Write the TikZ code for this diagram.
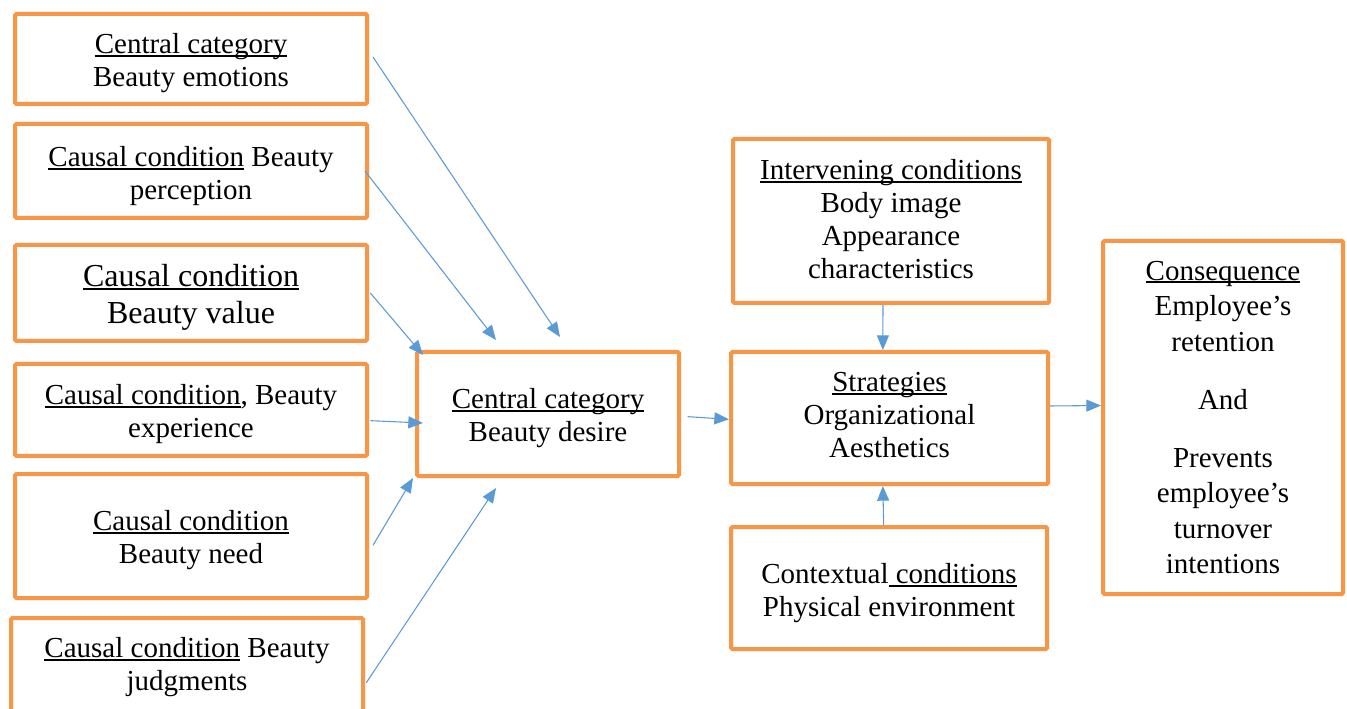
\documentclass[tikz,border=0pt]{standalone}
\usepackage{fontspec}
\setmainfont{Liberation Serif}
\usetikzlibrary{arrows.meta}
\definecolor{boxorange}{HTML}{F79646}
\definecolor{arrblue}{HTML}{5B9BD5}
\newcommand\myul[1]{\setbox0\hbox{#1}\rlap{\rule[-0.11em]{\wd0}{0.065em}}\box0\relax}
\tikzset{
  bx/.style 2 args={draw=boxorange, line width=3pt, rounded corners=1pt, fill=white,
    minimum width=#1*0.75pt, minimum height=#2*0.75pt, inner sep=0pt},
  txt/.style={inner sep=0pt, align=center, font=\fontsize{21.75pt}{24.75pt}\selectfont},
  arr/.style={draw=arrblue, line width=0.8pt, -{Triangle[length=11pt,width=9pt]}, fill=none}
}
\begin{document}
\begin{tikzpicture}[x=0.75pt,y=-0.75pt]
\useasboundingbox (0,0) rectangle (1347,709);
\clip (0,0) rectangle (1347,709);
\fill[white] (0,0) rectangle (1347,709);

% boxes
\node[bx={352}{90}] (b1) at (191,59) {};
\node[bx={352}{94}] (b2) at (191,171) {};
\node[bx={352}{96}] (b3) at (191,293) {};
\node[bx={352}{92}] (b4) at (191,410) {};
\node[bx={352}{124}] (b5) at (191,536) {};
\node[bx={352}{100}] (b6) at (187,668) {};
\node[bx={262}{124}] (cc) at (548,414) {};
\node[bx={316}{164}] (iv) at (891,221) {};
\node[bx={317}{132}] (st) at (889.5,418) {};
\node[bx={316}{122}] (cx) at (889,588) {};
\node[bx={240}{353}] (cq) at (1223,417.5) {};

% texts
\node[txt] (b1t) at (191,63) {\myul{Central category}\\Beauty emotions};
\node[txt] (b2t) at (191,176) {\myul{Causal condition} Beauty\\perception};
\node[txt, font=\fontsize{24pt}{27.75pt}\selectfont] (b3t) at (191,297) {\myul{Causal condition}\\Beauty value};
\node[txt] (b4t) at (191,414.5) {\myul{Causal condition}, Beauty\\experience};
\node[txt] (b5t) at (191,540.5) {\myul{Causal condition}\\Beauty need};
\node[txt] (b6t) at (187,667) {\myul{Causal condition} Beauty\\judgments};
\node[txt] (cct) at (548,418) {\myul{Central category}\\Beauty desire};
\node[txt] (ivt) at (891,219) {\myul{Intervening conditions}\\Body image\\Appearance\\characteristics};
\node[txt] (stt) at (889.5,415) {\myul{Strategies}\\Organizational\\Aesthetics};
\node[txt] (cxt) at (889,593) {Contextual\myul{ conditions}\\Physical environment};
\node[txt, font=\fontsize{21.75pt}{26.6pt}\selectfont] (cqt) at (1223,417.5) {\myul{Consequence}\\Employee’s\\retention\\[17pt]And\\[17pt]Prevents\\employee’s\\turnover\\intentions};

\coordinate (e1) at (560,337);
\coordinate (e2) at (496,340);
\coordinate (e3) at (423,355);
\coordinate (e4) at (423,423);
\coordinate (e5) at (413,478);
\coordinate (e6) at (496,488);

\draw[arr] ([xshift=3pt,yshift=1.5pt]b1.east) -- (e1);
\draw[arr] ([xshift=-3pt]b2.east) -- (e2);
\draw[arr] ([xshift=1pt]b3.east) -- (e3);
\draw[arr] ([xshift=1pt,yshift=-8pt]b4.east) -- (e4);
\draw[arr] ([xshift=3pt,yshift=-7pt]b5.east) -- (e5);
\draw[arr] ([xshift=1pt,yshift=-11pt]b6.east) -- (e6);
\draw[arr] ([xshift=5pt,yshift=-2pt]cc.east) -- ([yshift=-1pt]st.west);
\draw[arr] ([xshift=-6pt]iv.south) -- ([xshift=-5pt]st.north);
\draw[arr] ([xshift=-4pt]cx.north) -- ([xshift=-5pt]st.south);
\draw[arr] ([yshift=9pt]st.east) -- ([yshift=9pt]cq.west);
\end{tikzpicture}
\end{document}
